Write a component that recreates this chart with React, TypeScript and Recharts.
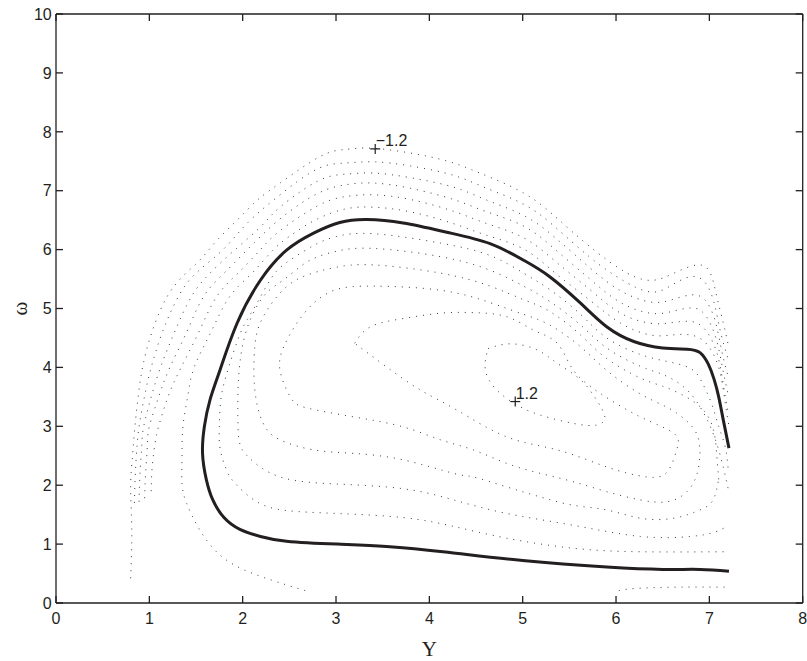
import { ComposedChart, Line, XAxis, YAxis, Scatter, Label } from "recharts";

type Pt = [number, number];

const xTicks = [0, 1, 2, 3, 4, 5, 6, 7, 8];
const yTicks = [0, 1, 2, 3, 4, 5, 6, 7, 8, 9, 10];

// solid contour (level 0)
const level0: Pt[] = [
  [7.21, 2.63], [7.15, 3.1], [7.1, 3.5], [7.05, 3.8], [6.99, 4.05], [6.9, 4.25], [6.76, 4.31],
  [6.5, 4.33], [6.19, 4.44], [5.9, 4.69], [5.62, 5.09], [5.29, 5.54], [5.01, 5.82], [4.65, 6.1],
  [4.2, 6.29], [3.72, 6.45], [3.33, 6.51], [3.04, 6.46], [2.76, 6.28], [2.47, 5.99], [2.19, 5.48],
  [1.94, 4.75], [1.76, 3.97], [1.65, 3.45], [1.59, 3.0], [1.57, 2.54], [1.61, 2.1], [1.68, 1.75],
  [1.8, 1.45], [1.97, 1.25], [2.19, 1.13], [2.47, 1.05], [3.01, 1.0], [3.54, 0.96], [4.2, 0.86],
  [5.0, 0.72], [5.9, 0.61], [6.5, 0.57], [6.9, 0.57], [7.21, 0.54],
];

// dotted contours outside the solid one
const outer1: Pt[] = [
  [0.8, 0.42], [0.81, 0.9], [0.81, 1.4], [0.8, 2.0], [0.82, 2.5], [0.84, 2.9], [0.88, 3.5],
  [0.94, 4.1], [1.05, 4.7], [1.19, 5.2], [1.36, 5.55], [1.54, 5.82], [1.72, 6.15], [1.94, 6.5],
  [2.15, 6.83], [2.4, 7.13], [2.83, 7.58], [3.1, 7.7], [3.4, 7.72], [3.9, 7.61], [4.26, 7.47],
  [4.54, 7.3], [5.01, 6.96], [5.37, 6.53], [5.72, 6.05], [6.12, 5.6], [6.4, 5.48], [6.62, 5.6],
  [6.87, 5.74], [7.01, 5.6], [7.08, 5.2], [7.15, 4.75], [7.2, 4.4],
];
const outer2: Pt[] = [
  [0.84, 1.7], [0.85, 2.2], [0.87, 2.7], [0.9, 3.1], [0.96, 3.6], [1.02, 4.0], [1.14, 4.6],
  [1.31, 5.2], [1.5, 5.6], [1.79, 6.0], [2.05, 6.45], [2.4, 6.93], [2.8, 7.37], [3.1, 7.47],
  [3.4, 7.49], [3.8, 7.42], [4.26, 7.26], [4.6, 7.05], [5.01, 6.77], [5.35, 6.38], [5.72, 5.87],
  [6.05, 5.5], [6.37, 5.28], [6.6, 5.4], [6.8, 5.54], [6.95, 5.45], [7.05, 5.1], [7.12, 4.6],
  [7.2, 4.15],
];
const outer3: Pt[] = [
  [0.89, 1.72], [0.9, 2.2], [0.92, 2.7], [0.94, 3.0], [1.02, 3.5], [1.12, 4.0], [1.27, 4.6],
  [1.45, 5.2], [1.65, 5.6], [1.92, 6.0], [2.2, 6.4], [2.4, 6.72], [2.8, 7.16], [3.1, 7.28],
  [3.4, 7.3], [3.8, 7.22], [4.26, 7.06], [4.6, 6.85], [5.01, 6.58], [5.35, 6.2], [5.72, 5.69],
  [6.05, 5.3], [6.37, 5.11], [6.6, 5.15], [6.8, 5.23], [6.95, 5.15], [7.06, 4.8], [7.13, 4.3],
  [7.2, 3.85],
];
const outer4: Pt[] = [
  [0.95, 1.78], [0.96, 2.2], [0.98, 2.7], [1.0, 3.0], [1.1, 3.5], [1.22, 4.0], [1.4, 4.6],
  [1.58, 5.2], [1.8, 5.6], [2.05, 6.0], [2.4, 6.52], [2.8, 6.95], [3.1, 7.1], [3.4, 7.13],
  [3.8, 7.04], [4.26, 6.85], [4.6, 6.65], [5.01, 6.4], [5.35, 6.0], [5.72, 5.5], [6.05, 5.1],
  [6.37, 4.92], [6.6, 4.95], [6.8, 5.01], [6.95, 4.9], [7.07, 4.5], [7.14, 4.0], [7.2, 3.55],
];
const outer5: Pt[] = [
  [1.02, 1.9], [1.03, 2.3], [1.06, 2.7], [1.1, 3.0], [1.2, 3.5], [1.34, 4.0], [1.53, 4.6],
  [1.72, 5.2], [1.95, 5.6], [2.19, 6.0], [2.4, 6.32], [2.8, 6.74], [3.1, 6.9], [3.4, 6.93],
  [3.8, 6.85], [4.26, 6.65], [4.6, 6.45], [5.01, 6.2], [5.35, 5.8], [5.72, 5.32], [6.05, 4.92],
  [6.37, 4.75], [6.6, 4.76], [6.8, 4.78], [6.95, 4.65], [7.08, 4.25], [7.15, 3.7], [7.2, 3.25],
];
const outer6: Pt[] = [
  [2.67, 0.21], [2.11, 0.5], [1.76, 0.81], [1.54, 1.24], [1.4, 1.69], [1.35, 2.03], [1.35, 2.49],
  [1.36, 3.0], [1.41, 3.5], [1.48, 4.0], [1.66, 4.6], [1.86, 5.2], [2.1, 5.6], [2.33, 6.0],
  [2.55, 6.28], [2.8, 6.52], [3.1, 6.69], [3.4, 6.72], [3.8, 6.64], [4.26, 6.44], [4.6, 6.25],
  [5.01, 6.01], [5.35, 5.6], [5.72, 5.14], [6.05, 4.75], [6.37, 4.55], [6.6, 4.55], [6.8, 4.55],
  [6.97, 4.4], [7.1, 4.0], [7.16, 3.5], [7.21, 3.0],
];
const bottomRight: Pt[] = [[6.03, 0.21], [6.15, 0.24], [6.4, 0.26], [6.7, 0.27], [7.17, 0.27]];

// dotted contours inside the solid one
const inner1: Pt[] = [
  [7.2, 2.3], [7.17, 2.65], [7.1, 3.0], [7.02, 3.4], [6.92, 3.75], [6.8, 3.98], [6.55, 4.1],
  [6.26, 4.22], [5.9, 4.5], [5.62, 4.9], [5.29, 5.32], [5.01, 5.6], [4.65, 5.9], [4.12, 6.11],
  [3.4, 6.27], [3.0, 6.22], [2.76, 6.07], [2.47, 5.78], [2.3, 5.5], [2.12, 5.0], [1.98, 4.6],
  [1.85, 4.0], [1.77, 3.5], [1.75, 3.0], [1.76, 2.6], [1.83, 2.25], [1.92, 2.03], [2.15, 1.72],
  [2.47, 1.57], [3.01, 1.52], [3.72, 1.45], [4.26, 1.3], [4.83, 1.1], [5.54, 0.93], [6.26, 0.87],
  [7.19, 0.87],
];
const inner2: Pt[] = [
  [7.2, 1.95], [7.15, 2.3], [7.08, 2.7], [6.98, 3.1], [6.85, 3.45], [6.7, 3.7], [6.5, 3.88],
  [6.26, 4.02], [5.9, 4.33], [5.62, 4.72], [5.29, 5.12], [5.01, 5.38], [4.65, 5.65], [4.12, 5.88],
  [3.4, 6.02], [3.0, 5.97], [2.7, 5.8], [2.45, 5.5], [2.22, 5.2], [2.04, 4.63], [1.97, 4.07],
  [1.95, 3.6], [1.95, 3.0], [1.97, 2.7], [2.06, 2.48], [2.4, 2.14], [3.01, 2.02], [3.72, 1.94],
  [4.26, 1.75], [4.83, 1.52], [5.54, 1.32], [6.26, 1.13], [6.8, 1.13], [7.05, 1.2], [7.19, 1.3],
];
const inner3: Pt[] = [
  [7.1, 2.1], [7.08, 2.5], [7.05, 2.9], [6.95, 3.25], [6.75, 3.5], [6.5, 3.68], [6.26, 3.82],
  [5.9, 4.15], [5.62, 4.55], [5.29, 4.95], [5.01, 5.15], [4.65, 5.38], [4.12, 5.6], [3.4, 5.74],
  [3.0, 5.7], [2.75, 5.6], [2.47, 5.37], [2.22, 4.86], [2.13, 4.35], [2.13, 3.62], [2.22, 3.05],
  [2.4, 2.77], [2.76, 2.6], [3.19, 2.54], [3.72, 2.43], [4.26, 2.2], [4.47, 2.14], [4.83, 1.97],
  [5.19, 1.8], [5.54, 1.66], [5.9, 1.58], [6.26, 1.44], [6.62, 1.44], [6.9, 1.58], [7.04, 1.75],
  [7.1, 2.1],
];
const inner4: Pt[] = [
  [6.9, 2.54], [6.87, 2.85], [6.75, 3.1], [6.55, 3.32], [6.26, 3.55], [5.9, 3.95], [5.62, 4.35],
  [5.29, 4.72], [5.01, 4.9], [4.65, 5.1], [4.12, 5.31], [3.4, 5.38], [3.0, 5.32], [2.76, 5.09],
  [2.58, 4.75], [2.44, 4.35], [2.4, 3.95], [2.51, 3.5], [2.69, 3.31], [3.19, 3.16], [3.72, 2.99],
  [4.12, 2.77], [4.47, 2.6], [4.83, 2.37], [5.19, 2.2], [5.54, 2.06], [5.9, 1.89], [6.26, 1.75],
  [6.55, 1.72], [6.76, 1.89], [6.87, 2.2], [6.9, 2.54],
];
const inner5: Pt[] = [
  [3.2, 4.41], [3.37, 4.69], [3.72, 4.83], [4.12, 4.92], [4.47, 4.93], [4.83, 4.86], [5.12, 4.63],
  [5.37, 4.41], [5.54, 3.96], [5.83, 3.56], [6.26, 3.16], [6.62, 2.88], [6.65, 2.6], [6.55, 2.23],
  [6.33, 2.14], [5.9, 2.31], [5.37, 2.6], [4.83, 2.82], [4.29, 3.28], [3.9, 3.62], [3.54, 4.01],
  [3.2, 4.41],
];
const inner6: Pt[] = [
  [4.63, 4.32], [4.87, 4.4], [5.15, 4.3], [5.37, 4.07], [5.62, 3.79], [5.79, 3.45], [5.88, 3.16],
  [5.79, 3.02], [5.54, 3.05], [5.19, 3.19], [4.94, 3.36], [4.72, 3.62], [4.6, 3.96], [4.63, 4.32],
];

const markers = [
  { x: 3.42, y: 7.71, label: "\u22121.2" },
  { x: 4.92, y: 3.42, label: "1.2" },
];

const dottedSeries = [
  { name: "outer1", pts: outer1 },
  { name: "outer2", pts: outer2 },
  { name: "outer3", pts: outer3 },
  { name: "outer4", pts: outer4 },
  { name: "outer5", pts: outer5 },
  { name: "outer6", pts: outer6 },
  { name: "bottomRight", pts: bottomRight },
  { name: "inner1", pts: inner1 },
  { name: "inner2", pts: inner2 },
  { name: "inner3", pts: inner3 },
  { name: "inner4", pts: inner4 },
  { name: "inner5", pts: inner5 },
  { name: "inner6", pts: inner6 },
];

const toRows = (pts: Pt[]) => pts.map(([x, y]) => ({ x, y }));

const INK = "#231f20";
const SANS = "'Liberation Sans', Arial, Helvetica, sans-serif";
const SERIF = "'Liberation Serif', 'Times New Roman', serif";
const TICK = 7;

const axisLine = { stroke: INK, strokeWidth: 1.3 };

// ticks point into the plot, like a boxed matlab axis
function BottomTick({ x, y, payload }: any) {
  return (
    <g>
      <line x1={x} x2={x} y1={y} y2={y - TICK} stroke={INK} strokeWidth={1.3} />
      <text x={x} y={y + 21} textAnchor="middle" fontSize={16} fontFamily={SANS} fill={INK}>
        {payload.value}
      </text>
    </g>
  );
}
function LeftTick({ x, y, payload }: any) {
  return (
    <g>
      <line x1={x} x2={x + TICK} y1={y} y2={y} stroke={INK} strokeWidth={1.3} />
      <text x={x - 4.3} y={y + 5.7} textAnchor="end" fontSize={16} fontFamily={SANS} fill={INK}>
        {payload.value}
      </text>
    </g>
  );
}
function TopTick({ x, y }: any) {
  return <line x1={x} x2={x} y1={y} y2={y + TICK} stroke={INK} strokeWidth={1.3} />;
}
function RightTick({ x, y }: any) {
  return <line x1={x} x2={x - TICK} y1={y} y2={y} stroke={INK} strokeWidth={1.3} />;
}

function Marker(props: any) {
  const { cx, cy, payload } = props;
  return (
    <g>
      <line x1={cx - 5} x2={cx + 5} y1={cy} y2={cy} stroke={INK} strokeWidth={1.2} />
      <line x1={cx} x2={cx} y1={cy - 5} y2={cy + 5} stroke={INK} strokeWidth={1.2} />
      <text x={cx + 0.5} y={cy - 3} fontSize={16} fontFamily={SANS} fill={INK}>
        {payload.label}
      </text>
    </g>
  );
}

function OmegaLabel(props: any) {
  const vb = props.viewBox;
  const cx = vb.x + 20;
  const cy = vb.y + vb.height / 2;
  return (
    <text
      x={cx}
      y={cy}
      transform={`rotate(-90 ${cx} ${cy})`}
      textAnchor="middle"
      dominantBaseline="central"
      fontSize={21}
      fontFamily={SERIF}
      fill={INK}
    >
      ω
    </text>
  );
}

export default function App() {
  return (
    <div style={{ position: "absolute", left: 0, top: 0, width: 807, height: 661, background: "#fff" }}>
      <ComposedChart width={807} height={661} margin={{ top: 0, right: 0, bottom: 0, left: 0 }}>
        <XAxis
          xAxisId="b"
          type="number"
          dataKey="x"
          domain={[0, 8]}
          ticks={xTicks}
          interval={0}
          allowDataOverflow
          height={58}
          tickSize={0}
          tickMargin={0}
          axisLine={axisLine}
          tickLine={false}
          tick={BottomTick}
        >
          <Label
            value="Y"
            position="insideBottom"
            offset={5}
            style={{ fontFamily: SERIF, fontSize: 21, fill: INK }}
          />
        </XAxis>
        <XAxis
          xAxisId="t"
          orientation="top"
          type="number"
          dataKey="x"
          domain={[0, 8]}
          ticks={xTicks}
          interval={0}
          allowDataOverflow
          height={14}
          tickSize={0}
          tickMargin={0}
          axisLine={axisLine}
          tickLine={false}
          tick={TopTick}
        />
        <YAxis
          yAxisId="l"
          type="number"
          domain={[0, 10]}
          ticks={yTicks}
          interval={0}
          allowDataOverflow
          width={56}
          tickSize={0}
          tickMargin={0}
          axisLine={axisLine}
          tickLine={false}
          tick={LeftTick}
        >
          <Label content={OmegaLabel} />
        </YAxis>
        <YAxis
          yAxisId="r"
          orientation="right"
          type="number"
          domain={[0, 10]}
          ticks={yTicks}
          interval={0}
          allowDataOverflow
          width={4.3}
          tickSize={0}
          tickMargin={0}
          axisLine={axisLine}
          tickLine={false}
          tick={RightTick}
        />
        {dottedSeries.map((s) => (
          <Line
            key={s.name}
            xAxisId="b"
            yAxisId="l"
            data={toRows(s.pts)}
            dataKey="y"
            type="natural"
            stroke="#3a3a3a"
            strokeWidth={1}
            strokeDasharray="1 6"
            dot={false}
            activeDot={false}
            isAnimationActive={false}
          />
        ))}
        <Line
          xAxisId="b"
          yAxisId="l"
          data={toRows(level0)}
          dataKey="y"
          type="natural"
          stroke={INK}
          strokeWidth={3}
          dot={false}
          activeDot={false}
          isAnimationActive={false}
        />
        {/* markers sit on the mirrored top/right axes (same domains) so those axes get ticks */}
        <Scatter
          xAxisId="t"
          yAxisId="r"
          data={markers}
          dataKey="y"
          shape={Marker}
          isAnimationActive={false}
        />
      </ComposedChart>
    </div>
  );
}
